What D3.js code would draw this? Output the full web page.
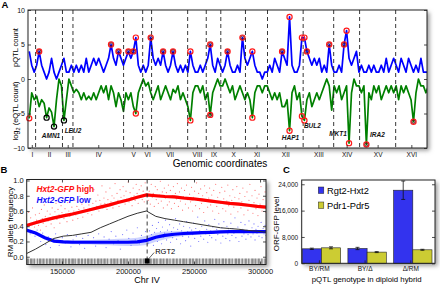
<!DOCTYPE html>
<html><head><meta charset="utf-8">
<script src="https://cdn.jsdelivr.net/npm/d3@7"></script>
<style>body{margin:0;background:#fff}svg{display:block}text{font-family:"Liberation Sans",Arial,sans-serif}</style>
</head><body><svg id="c" width="440" height="284"></svg>
<script>
// ---------- Panel A data ----------
const chromNames = ["I","II","III","IV","V","VI","VII","VIII","IX","X","XI","XII","XIII","XIV","XV","XVI"];
const chromLenKb = [230,813,317,1532,577,270,1091,563,440,746,667,1078,924,784,1091,948];
const binKb = 75;
const pqtlCounts = [4,2,1,2,4,2,1,0,1,3, 1,0,1,2,3,1,1,2,1,2, 1,2,1,3,1,2,3,2,3,2, 1,2,3,5,3,2,4,3,2,3,
 4,3,4,6,2,1,2,1,2,6, 3,2,3,2,4,2,1,2,4,2, 1,2,1,2,1,4,2,1,1,2, 1,2,3,5,2,1,3,2,1,2,
 4,2,1,1,2,1,6,3,2,3, 4,2,1,1,0,1,1,2,1,3, 2,1,4,3,2,9,2,1,1,2, 6,6,4,3,2,3,2,3,1,2,
 1,5,2,1,1,2,1,5,7,3, 2,3,4,1,2,1,1,2,1,2, 1,1,2,1,3,1,2,3,2,1, 3,2,1,3,2,1,2,1,3,1, 1,1];
const eqtlLog2 = [-5.7,-2,-3,-2.5,-4,-3,-3.5,-5.6,-4.2,-4.8, -6.9,-3,0,-1,-6,-3,0,-1,-2,-1.5,
 -2,-3,-2,-3,-2.5,-3,-2,-3,-2,-1, -2,-1,-3,-1,-2,-4,-2,-3,-4.7,-2, -3,-2,-4,-5,-2,-1,0,-1,-0.5,-2,
 -3,-2,-1,-3,-2,-1,-2,-3,-1.5,-2, -1,-3,-2,-3,-4,-6,-2,-1,-1,-2, -1,-3,-2,-5.2,-2,-1,0,-1,-1,0,
 -1,-2,-1,-3,-2,-1,-2,-3,-2,-3, -5.6,-2,-1,-1,-2,-1,-1,-2,-3,-2, -3,-2,-4,-4,-3,-7.5,-2,-1,-3,-2,
 -5.4,-6,-3,-2,-4,-3,-2,-3,-2,-1, 0,-1,-4.5,-1,-2,-1,-3,-2,-1,-9.3, -2,0,-1,-1,-2,-1,-9.5,-2,-3,-1,
 -2,-1,-3,-2,-1,-2,-1,-2,-1,-3, -1,-2,-1,-2,-3,-6.2,-2,0,-1,-1, -2,-1];
const pqtlPeakBins = [4,33,36,40,42,43,49,54,58,65,73,80,86,90,102,105,110,111,112,121,127,128];
const pqtlPeakKind = ["d","d","d","d","d","r","d","d","d","r","d","d","d","r","d","r","r","r","d","d","d","r"];
const eqtlPeakBins = [0,7,10,14,43,65,73,90,105,110,111,129,136,155];
const eqtlPeakKind = ["r","k","k","k","r","r","d","r","r","r","r","r","d","d"];
const geneNames = ["AMN1","LEU2","HAP1","BUL2","MKT1","IRA2"];
const geneBins = [10,14,105,111,129,136];

// ---------- Panel B data ----------
const bPosKb = [123,130,137,144,151,158,165,172,179,186,193,200,207,214,221,228,235,242,249,256,263,270,277,284,291,298,305];
const highFreq = [0.41,0.445,0.48,0.51,0.535,0.56,0.59,0.62,0.65,0.68,0.715,0.745,0.78,0.81,0.80,0.79,0.785,0.77,0.76,0.745,0.73,0.715,0.70,0.69,0.675,0.66,0.65];
const lowFreq = [0.35,0.31,0.25,0.205,0.195,0.19,0.19,0.19,0.19,0.19,0.19,0.19,0.195,0.215,0.255,0.28,0.295,0.305,0.31,0.315,0.32,0.325,0.33,0.33,0.33,0.33,0.33];
const lowBand = [0.012,0.012,0.015,0.02,0.022,0.025,0.028,0.03,0.035,0.04,0.045,0.05,0.055,0.06,0.06,0.05,0.04,0.032,0.025,0.02,0.018,0.016,0.015,0.015,0.015,0.015,0.015];
const highBand = [0.02,0.02,0.02,0.02,0.02,0.02,0.02,0.02,0.02,0.02,0.02,0.02,0.02,0.02,0.02,0.02,0.02,0.02,0.02,0.02,0.02,0.02,0.02,0.02,0.02,0.02,0.02];
const diffFreq = [0.04,0.10,0.17,0.24,0.27,0.28,0.30,0.32,0.38,0.43,0.48,0.53,0.57,0.60,0.53,0.50,0.48,0.46,0.44,0.42,0.40,0.38,0.37,0.36,0.345,0.335,0.32];
const highDots = [[123.4,0.47],[124.1,0.36],[124.8,0.58],[125.6,0.42],[126.3,0.51],[127.1,0.33],[127.7,0.64],[128.5,0.45],[129.2,0.39],[129.9,0.55],[130.8,0.48],[131.4,0.72],[132.2,0.41],[132.9,0.57],[133.7,0.35],[134.5,0.62],[135.1,0.5],[135.8,0.44],[136.6,0.68],[137.4,0.53],[138.0,0.4],[138.9,0.6],[139.5,0.47],[140.3,0.85],[141.0,0.56],[141.8,0.43],[142.6,0.64],[143.2,0.52],[144.1,0.38],[144.7,0.59],[145.5,0.7],[146.2,0.49],[147.0,0.62],[147.8,0.55],[148.4,0.44],[149.3,0.67],[150.0,0.58],[150.7,0.78],[151.5,0.5],[152.3,0.63],[152.9,0.56],[153.8,0.46],[154.4,0.71],[155.2,0.6],[156.0,0.53],[156.7,0.9],[157.5,0.65],[158.2,0.48],[159.0,0.6],[159.7,0.74],[160.5,0.55],[161.3,0.66],[162.0,0.5],[162.8,0.62],[163.5,0.79],[164.3,0.58],[165.1,0.69],[165.8,0.52],[166.6,0.64],[167.3,0.75],[168.1,0.6],[168.9,0.83],[169.6,0.57],[170.4,0.68],[171.1,0.63],[171.9,0.76],[172.6,0.55],[173.4,0.7],[174.2,0.88],[174.9,0.62],[175.7,0.73],[176.4,0.66],[177.2,0.81],[178.0,0.6],[178.7,0.74],[179.5,0.69],[180.3,0.93],[181.0,0.64],[181.8,0.77],[182.5,0.7],[183.3,0.85],[184.1,0.62],[184.8,0.75],[185.6,0.68],[186.3,0.9],[187.1,0.72],[187.9,0.8],[188.6,0.64],[189.4,0.77],[190.2,0.96],[190.9,0.7],[191.7,0.83],[192.4,0.74],[193.2,0.66],[194.0,0.88],[194.7,0.78],[195.5,0.71],[196.3,0.92],[197.0,0.8],[197.8,0.69],[198.5,0.86],[199.3,0.76],[200.1,0.98],[200.8,0.72],[201.6,0.84],[202.4,0.78],[203.1,0.67],[203.9,0.9],[204.6,0.8],[205.4,0.74],[206.2,0.95],[206.9,0.83],[207.7,0.7],[208.5,0.88],[209.2,0.79],[210.0,0.93],[210.8,0.75],[211.5,0.86],[212.3,0.72],[213.0,0.97],[213.8,0.82],
[214.6,0.9],[215.3,0.74],[216.1,0.86],[216.9,0.69],[217.6,0.95],[218.4,0.78],[219.1,0.83],[219.9,0.66],[220.7,0.92],[221.4,0.75],[222.2,0.88],[223.0,0.7],[223.7,0.81],[224.5,0.99],[225.2,0.73],[226.0,0.85],[226.8,0.64],[227.5,0.9],[228.3,0.77],[229.1,0.84],[229.8,0.68],[230.6,0.94],[231.3,0.72],[232.1,0.87],[232.9,0.63],[233.6,0.8],[234.4,0.92],[235.2,0.7],[235.9,0.83],[236.7,0.76],[237.4,0.96],[238.2,0.66],[239.0,0.85],[239.7,0.73],[240.5,0.9],[241.3,0.61],[242.0,0.79],[242.8,0.87],[243.5,0.69],[244.3,0.94],[245.1,0.75],[245.8,0.64],[246.6,0.82],[247.4,0.72],[248.1,0.91],[248.9,0.6],[249.6,0.78],[250.4,0.86],[251.2,0.67],[251.9,0.97],[252.7,0.74],[253.5,0.83],[254.2,0.63],[255.0,0.89],[255.7,0.7],[256.5,0.8],[257.3,0.58],[258.0,0.93],[258.8,0.73],[259.6,0.84],[260.3,0.65],[261.1,0.77],[261.8,0.9],[262.6,0.68],[263.4,0.81],[264.1,0.6],[264.9,0.87],[265.7,0.72],[266.4,0.95],[267.2,0.66],[267.9,0.78],[268.7,0.57],[269.5,0.84],[270.2,0.7],[271.0,0.91],[271.8,0.63],[272.5,0.76],[273.3,0.86],[274.0,0.6],[274.8,0.73],[275.6,0.94],[276.3,0.67],[277.1,0.8],[277.9,0.56],[278.6,0.74],[279.4,0.88],[280.1,0.65],[280.9,0.78],[281.7,0.7],[282.4,0.92],[283.2,0.59],[284.0,0.76],[284.7,0.83],[285.5,0.64],[286.2,0.72],[287.0,0.9],[287.8,0.55],[288.5,0.79],[289.3,0.68],[290.1,0.85],[290.8,0.61],[291.6,0.74],[292.3,0.95],[293.1,0.66],[293.9,0.8],[294.6,0.57],[295.4,0.71],[296.2,0.87],[296.9,0.63],[297.7,0.77],[298.4,0.54],[299.2,0.82],[300.0,0.69],[300.7,0.92],[301.5,0.6],[302.3,0.75],[303.0,0.66],[303.8,0.85],[304.4,0.58]];
const lowDots = [[123.8,0.38],[125.9,0.3],[127.3,0.42],[129.6,0.27],[131.2,0.35],[133.9,0.2],[135.4,0.31],[137.8,0.16],[139.6,0.26],[141.3,0.12],[143.7,0.23],[145.2,0.3],[147.9,0.15],[150.3,0.25],[152.6,0.18],[154.1,0.29],[156.8,0.13],[158.4,0.22],[160.9,0.27],[163.3,0.16],[165.7,0.24],[167.2,0.11],[169.8,0.28],[171.4,0.19],[173.9,0.25],[175.5,0.14],[177.8,0.3],[179.6,0.2],[181.9,0.26],[183.4,0.12],[185.7,0.23],[187.3,0.33],[189.1,0.17],[190.8,0.27],[192.5,0.21],[194.2,0.1],[195.9,0.29],[197.4,0.19],[199.1,0.35],[200.6,0.24],[202.3,0.15],[203.8,0.31],[205.5,0.22],[207.1,0.38],[208.6,0.17],[210.2,0.28],[211.7,0.2],[213.3,0.33],
[214.8,0.26],[215.5,0.18],[216.3,0.34],[217.0,0.22],[217.8,0.29],[218.5,0.41],[219.3,0.15],[220.1,0.32],[220.8,0.24],[221.6,0.37],[222.3,0.2],[223.1,0.45],[223.9,0.28],[224.6,0.33],[225.4,0.17],[226.1,0.39],[226.9,0.26],[227.7,0.31],[228.4,0.48],[229.2,0.22],[229.9,0.35],[230.7,0.28],[231.5,0.42],[232.2,0.19],[233.0,0.33],[233.8,0.25],[234.5,0.38],[235.3,0.3],[236.0,0.5],[236.8,0.23],[237.6,0.36],[238.3,0.29],[239.1,0.43],[239.8,0.17],[240.6,0.34],[241.4,0.27],[242.1,0.4],[242.9,0.31],[243.6,0.21],[244.4,0.46],[245.2,0.33],[245.9,0.26],[246.7,0.38],[247.5,0.14],[248.2,0.35],[249.0,0.29],[249.7,0.44],[250.5,0.24],[251.3,0.37],[252.0,0.31],[252.8,0.52],[253.5,0.2],[254.3,0.34],[255.1,0.27],[255.8,0.4],[256.6,0.33],[257.3,0.23],[258.1,0.47],[258.9,0.3],[259.6,0.36],[260.4,0.19],[261.2,0.42],[261.9,0.28],[262.7,0.34],[263.4,0.25],[264.2,0.39],[265.0,0.31],[265.7,0.49],[266.5,0.22],[267.2,0.36],[268.0,0.29],[268.8,0.43],[269.5,0.33],[270.3,0.18],[271.1,0.38],[271.8,0.27],[272.6,0.46],[273.3,0.32],[274.1,0.24],[274.9,0.4],[275.6,0.3],[276.4,0.35],[277.1,0.21],[277.9,0.44],[278.7,0.28],[279.4,0.37],[280.2,0.31],[281.0,0.51],[281.7,0.25],[282.5,0.34],[283.2,0.39],[284.0,0.2],[284.8,0.32],[285.5,0.45],[286.3,0.27],[287.0,0.36],[287.8,0.3],[288.6,0.42],[289.3,0.23],[290.1,0.35],[290.9,0.29],[291.6,0.47],[292.4,0.33],[293.1,0.26],[293.9,0.38],[294.7,0.3],[295.4,0.43],[296.2,0.22],[296.9,0.36],[297.7,0.31],[298.5,0.4],[299.2,0.27],[300.0,0.34],[300.8,0.45],[301.5,0.25],[302.3,0.37],[303.0,0.3],[303.8,0.41],[304.5,0.28]];
const geneStartKb = [123.5,125.8,128.4,131.0,132.6,135.2,137.9,140.1,142.7,144.9,147.5,149.8,152.3,154.6,157.1,159.5,161.8,164.4,166.9,169.0,171.6,174.2,176.5,179.1,181.4,183.9,186.6,188.8,191.3,193.9,196.2,198.7,201.2,203.5,206.0,208.6,211.1,216.4,218.9,221.3,223.8,226.2,228.7,231.3,233.6,236.2,238.8,241.1,243.6,246.1,248.5,251.0,253.6,256.0,258.5,261.0,263.4,266.0,268.5,270.9,273.4,275.9,278.4,280.8,283.3,285.9,288.3,290.8,293.3,295.8,298.2,300.8,303.2];
const geneLenKb = [1.5,1.9,1.2,0.9,1.8,1.6,1.3,1.9,1.1,1.7,1.4,1.8,1.2,1.6,1.9,1.0,1.7,1.5,1.3,1.8,1.6,1.2,1.9,1.4,1.7,1.1,1.5,1.8,1.3,1.6,1.9,1.2,1.4,1.7,1.5,1.8,1.1,1.6,1.9,1.2,1.7,1.4,1.8,1.0,1.6,1.5,1.3,1.9,1.2,1.7,1.4,1.8,1.1,1.6,1.5,1.9,1.3,1.7,1.2,1.8,1.4,1.6,1.0,1.9,1.5,1.3,1.7,1.2,1.8,1.4,1.6,1.1,1.0];
const rgt2Kb = 214.5;
const bTicksKb = [150,200,250,300];
const bYTicks = [0,0.2,0.4,0.6,0.8,1.0];

// ---------- Panel C data ----------
const genotypes = ["BY/RM","BY/\u0394","\u0394/RM"];
const seriesNames = ["Rgt2-Hxt2","Pdr1-Pdr5"];
const rgt2Hxt2 = [4400,4500,22200];
const rgt2Hxt2Err = [200,350,2800];
const pdr1Pdr5 = [4700,3400,4100];
const pdr1Pdr5Err = [300,150,150];
const cYTicks = [0,8000,16000,24000];

const FONT = "Liberation Sans, Arial, sans-serif";
const svg = d3.select("#c");
const defs = svg.append("defs");
defs.append("filter").attr("id","blur").attr("x","-20%").attr("y","-20%").attr("width","140%").attr("height","140%")
  .append("feGaussianBlur").attr("stdDeviation",2.2);

function frame(x0,y0,x1,y1){
  svg.append("rect").attr("x",x0+2.5).attr("y",y0+2.5).attr("width",x1-x0).attr("height",y1-y0)
    .attr("fill","#9a9a9a").attr("filter","url(#blur)");
  svg.append("rect").attr("x",x0).attr("y",y0).attr("width",x1-x0).attr("height",y1-y0).attr("fill","#fff");
}
function border(x0,y0,x1,y1){
  svg.append("rect").attr("x",x0).attr("y",y0).attr("width",x1-x0).attr("height",y1-y0)
    .attr("fill","none").attr("stroke","#222").attr("stroke-width",1);
}
function styleAxis(g,fs){
  g.attr("font-family",FONT).attr("font-size",fs);
  g.select(".domain").remove();
  g.selectAll(".tick line").attr("stroke","#222").attr("stroke-width",0.8);
  g.selectAll(".tick text").attr("fill","#111");
}
function clip(id,x0,y0,x1,y1){
  defs.append("clipPath").attr("id",id).append("rect").attr("x",x0).attr("y",y0).attr("width",x1-x0).attr("height",y1-y0);
}

// ================= Panel A =================
const A = {l:28,r:427,t:10,b:148};
frame(A.l,A.t,A.r,A.b);
clip("clipA",A.l,A.t,A.r,A.b);
const totalKb = d3.sum(chromLenKb);
const cum = d3.cumsum(chromLenKb);
const xA = d3.scaleLinear().domain([0,totalKb]).range([A.l,A.r]);
const yA = d3.scaleLinear().domain([-10,10]).range([A.b,A.t]);
const gA = svg.append("g").attr("clip-path","url(#clipA)");
const binX = i => xA((i+0.5)*binKb);
gA.append("path").datum(eqtlLog2).attr("fill","none").attr("stroke","#008000").attr("stroke-width",1.7)
  .attr("stroke-linejoin","round").attr("d",d3.line().x((d,i)=>binX(i)).y(d=>yA(d)));
gA.append("path").datum(pqtlCounts).attr("fill","none").attr("stroke","#0000ff").attr("stroke-width",1.7)
  .attr("stroke-linejoin","round").attr("d",d3.line().x((d,i)=>binX(i)).y(d=>yA(d)));
gA.selectAll("line.chr").data(cum.slice(0,-1)).join("line").attr("class","chr")
  .attr("x1",d=>xA(d)).attr("x2",d=>xA(d)).attr("y1",A.t).attr("y2",A.b)
  .attr("stroke","#222").attr("stroke-width",0.9).attr("stroke-dasharray","4,3");
function peakCircles(bins,kinds,vals){
  bins.forEach((b,k)=>{
    const cx=binX(b), cy=yA(vals[b]), kind=kinds[k];
    svg.append("circle").attr("cx",cx).attr("cy",cy).attr("r",2.6).attr("fill","none")
      .attr("stroke",kind==="k"?"#000":"#ff1a1a").attr("stroke-width",1.2);
    if(kind==="d") svg.append("circle").attr("cx",cx).attr("cy",cy).attr("r",1.6).attr("fill","none")
      .attr("stroke","#5a0010").attr("stroke-width",0.9);
  });
}
peakCircles(pqtlPeakBins,pqtlPeakKind,pqtlCounts);
peakCircles(eqtlPeakBins,eqtlPeakKind,eqtlLog2);
const geneOff = {AMN1:[-3,11],LEU2:[9,13],HAP1:[1,9],BUL2:[8,8],MKT1:[-11,-7],IRA2:[11,-8]};
geneNames.forEach((n,k)=>{
  const b=geneBins[k];
  svg.append("text").attr("x",binX(b)+geneOff[n][0]).attr("y",yA(eqtlLog2[b])+geneOff[n][1])
    .attr("text-anchor","middle").attr("font-size",6.5).attr("font-weight","bold").attr("font-style","italic")
    .attr("font-family",FONT).attr("fill","#111").text(n);
});
const axAL = svg.append("g").attr("transform",`translate(${A.l},0)`)
  .call(d3.axisLeft(yA).tickValues([-10,-5,0,5,10]).tickSize(-3).tickPadding(3));
styleAxis(axAL,7);
const axAR = svg.append("g").attr("transform",`translate(${A.r},0)`)
  .call(d3.axisRight(yA).tickValues([-10,-5,0,5,10]).tickSize(-3).tickFormat(""));
styleAxis(axAR,7);
const centers = chromLenKb.map((L,i)=>cum[i]-L/2);
const axAB = svg.append("g").attr("transform",`translate(0,${A.b})`)
  .call(d3.axisBottom(xA).tickValues(centers).tickSize(-3).tickPadding(4.5).tickFormat((d,i)=>chromNames[i]));
styleAxis(axAB,6.5);
border(A.l,A.t,A.r,A.b);
svg.append("text").attr("x",220).attr("y",166.5).attr("text-anchor","middle").attr("font-size",10).text("Genomic coordinates");
svg.append("text").attr("transform","translate(18,47.5) rotate(-90)").attr("text-anchor","middle").attr("font-size",7.5).text("pQTL count");
const lg = svg.append("text").attr("transform","translate(18,111) rotate(-90)").attr("text-anchor","middle").attr("font-size",7.5);
lg.append("tspan").text("log");
lg.append("tspan").attr("font-size",5.5).attr("dy",2).text("2");
lg.append("tspan").attr("dy",-2).text(" (eQTL count)");
svg.append("text").attr("x",1.5).attr("y",7.5).attr("font-size",9.5).attr("font-weight","bold").text("A");

// ================= Panel B =================
const B = {l:26.7,r:266,t:179.5,b:264.5};
frame(B.l,B.t,B.r,B.b);
clip("clipB",B.l,B.t,B.r,B.b);
const xB = d3.scaleLinear().domain([123.3,304.5]).range([B.l,B.r]);
const yB = d3.scaleLinear().domain([-0.102,1.013]).range([B.b,B.t]);
const gB = svg.append("g").attr("clip-path","url(#clipB)");
gB.append("rect").attr("x",B.l).attr("y",yB(-0.024)).attr("width",B.r-B.l).attr("height",yB(-0.094)-yB(-0.024)).attr("fill","#dcdcdc");
gB.selectAll("rect.gene").data(d3.zip(geneStartKb,geneLenKb)).join("rect").attr("class","gene")
  .attr("x",d=>xB(d[0])).attr("width",d=>xB(d[0]+d[1])-xB(d[0]))
  .attr("y",yB(-0.024)).attr("height",yB(-0.094)-yB(-0.024)).attr("fill","#8c8c8c");
gB.selectAll("circle.hd").data(highDots).join("circle").attr("class","hd")
  .attr("cx",d=>xB(d[0])).attr("cy",d=>yB(d[1])).attr("r",0.6).attr("fill","#ff3030").attr("opacity",0.65);
gB.selectAll("circle.ld").data(lowDots).join("circle").attr("class","ld")
  .attr("cx",d=>xB(d[0])).attr("cy",d=>yB(d[1])).attr("r",0.6).attr("fill","#3030ff").attr("opacity",0.65);
const bIdx = d3.range(bPosKb.length);
gB.append("path").datum(bIdx).attr("fill","rgba(90,110,255,0.3)")
  .attr("d",d3.area().x(i=>xB(bPosKb[i])).y0(i=>yB(lowFreq[i]-lowBand[i])).y1(i=>yB(lowFreq[i]+lowBand[i])));
gB.append("path").datum(bIdx).attr("fill","rgba(255,90,90,0.35)")
  .attr("d",d3.area().x(i=>xB(bPosKb[i])).y0(i=>yB(highFreq[i]-highBand[i])).y1(i=>yB(highFreq[i]+highBand[i])));
gB.append("path").datum(bIdx).attr("fill","none").attr("stroke","#ff0000").attr("stroke-width",3.2)
  .attr("d",d3.line().x(i=>xB(bPosKb[i])).y(i=>yB(highFreq[i])));
gB.append("path").datum(bIdx).attr("fill","none").attr("stroke","#0000ff").attr("stroke-width",3.2)
  .attr("d",d3.line().x(i=>xB(bPosKb[i])).y(i=>yB(lowFreq[i])));
gB.append("path").datum(bIdx).attr("fill","none").attr("stroke","#333").attr("stroke-width",1)
  .attr("d",d3.line().x(i=>xB(bPosKb[i])).y(i=>yB(diffFreq[i])));
gB.append("line").attr("x1",xB(rgt2Kb)).attr("x2",xB(rgt2Kb)).attr("y1",B.t).attr("y2",B.b)
  .attr("stroke","#222").attr("stroke-width",0.9).attr("stroke-dasharray","4,3");
gB.append("rect").attr("x",xB(rgt2Kb)-2.5).attr("y",yB(-0.022)).attr("width",5).attr("height",yB(-0.09)-yB(-0.022)).attr("fill","#000");
svg.append("line").attr("x1",xB(rgt2Kb)+2).attr("y1",yB(-0.02)).attr("x2",xB(rgt2Kb)+7).attr("y2",yB(0.055)).attr("stroke","#222").attr("stroke-width",0.7);
svg.append("text").attr("x",xB(rgt2Kb)+8).attr("y",253.5).attr("font-size",7.5).text("RGT2");
const axBL = svg.append("g").attr("transform",`translate(${B.l},0)`)
  .call(d3.axisLeft(yB).tickValues(bYTicks).tickSize(-3).tickPadding(3).tickFormat(d3.format(".1f")));
styleAxis(axBL,7.5);
const axBR = svg.append("g").attr("transform",`translate(${B.r},0)`)
  .call(d3.axisRight(yB).tickValues(bYTicks).tickSize(-3).tickFormat(""));
styleAxis(axBR,7.5);
const axBB = svg.append("g").attr("transform",`translate(0,${B.b})`)
  .call(d3.axisBottom(xB).tickValues(bTicksKb).tickSize(-3).tickPadding(3.8).tickFormat(d=>String(d*1000)));
styleAxis(axBB,7.5);
const axBT = svg.append("g").attr("transform",`translate(0,${B.t})`)
  .call(d3.axisTop(xB).tickValues(bTicksKb).tickSize(-3).tickFormat(""));
styleAxis(axBT,7.5);
border(B.l,B.t,B.r,B.b);
const lh = svg.append("text").attr("x",36.5).attr("y",192).attr("font-size",8.3).attr("font-weight","bold").attr("fill","#ff1010");
lh.append("tspan").attr("font-style","italic").text("Hxt2-GFP");
lh.append("tspan").text(" high");
const ll = svg.append("text").attr("x",36.5).attr("y",203).attr("font-size",8.3).attr("font-weight","bold").attr("fill","#1010ff");
ll.append("tspan").attr("font-style","italic").text("Hxt2-GFP");
ll.append("tspan").text(" low");
svg.append("text").attr("x",147).attr("y",283).attr("text-anchor","middle").attr("font-size",9).text("Chr IV");
svg.append("text").attr("transform","translate(12.5,222) rotate(-90)").attr("text-anchor","middle").attr("font-size",8).text("RM allele frequency");
svg.append("text").attr("x",0.5).attr("y",172.5).attr("font-size",9.5).attr("font-weight","bold").text("B");

// ================= Panel C =================
const C = {l:301.7,r:435,t:180,b:263.3};
frame(C.l,C.t,C.r,C.b);
const xC = d3.scaleBand().domain(genotypes).range([C.l+0.5,C.r-3]).paddingInner(0.16).paddingOuter(0);
const xSub = d3.scaleBand().domain(seriesNames).range([0,xC.bandwidth()]);
const yC = d3.scaleLinear().domain([0,25300]).range([C.b,C.t]);
const cVals = [rgt2Hxt2,pdr1Pdr5], cErrs=[rgt2Hxt2Err,pdr1Pdr5Err], cCols=["#3333ee","#cccc33"];
seriesNames.forEach((s,si)=>{
  genotypes.forEach((g,gi)=>{
    const x0 = xC(g)+xSub(s), w = xSub.bandwidth(), v = cVals[si][gi], e = cErrs[si][gi];
    svg.append("rect").attr("x",x0).attr("y",yC(v)).attr("width",w).attr("height",yC(0)-yC(v))
      .attr("fill",cCols[si]).attr("stroke","#222").attr("stroke-width",0.6);
    const cx = x0+w/2;
    svg.append("line").attr("x1",cx).attr("x2",cx).attr("y1",yC(v-e)).attr("y2",yC(v+e)).attr("stroke","#111").attr("stroke-width",0.8);
    [v-e,v+e].forEach(t=>svg.append("line").attr("x1",cx-2).attr("x2",cx+2).attr("y1",yC(t)).attr("y2",yC(t)).attr("stroke","#111").attr("stroke-width",0.8));
  });
});
const axCL = svg.append("g").attr("transform",`translate(${C.l},0)`)
  .call(d3.axisLeft(yC).tickValues(cYTicks).tickSize(-3).tickPadding(3.5));
styleAxis(axCL,6.5);
const axCR = svg.append("g").attr("transform",`translate(${C.r},0)`)
  .call(d3.axisRight(yC).tickValues(cYTicks).tickSize(-3).tickFormat(""));
styleAxis(axCR,6.5);
const axCB = svg.append("g").attr("transform",`translate(0,${C.b})`)
  .call(d3.axisBottom(xC).tickSize(-3).tickPadding(3));
styleAxis(axCB,6.5);
axCB.selectAll(".tick").attr("transform",d=>`translate(${xC(d)+xC.bandwidth()/2-2},0)`);
border(C.l,C.t,C.r,C.b);
seriesNames.forEach((s,si)=>{
  svg.append("rect").attr("x",318.3).attr("y",187+si*15).attr("width",5.5).attr("height",6.5)
    .attr("fill",cCols[si]).attr("stroke","#222").attr("stroke-width",0.5);
  svg.append("text").attr("x",327).attr("y",193.5+si*15).attr("font-size",9.3).text(s);
});
svg.append("text").attr("x",366.7).attr("y",281.5).attr("text-anchor","middle").attr("font-size",7.8).text("pQTL genotype in diploid hybrid");
svg.append("text").attr("transform","translate(278.5,224) rotate(-90)").attr("text-anchor","middle").attr("font-size",8).text("ORF-GFP level");
svg.append("text").attr("x",283).attr("y",173).attr("font-size",9.5).attr("font-weight","bold").text("C");
</script></body></html>
